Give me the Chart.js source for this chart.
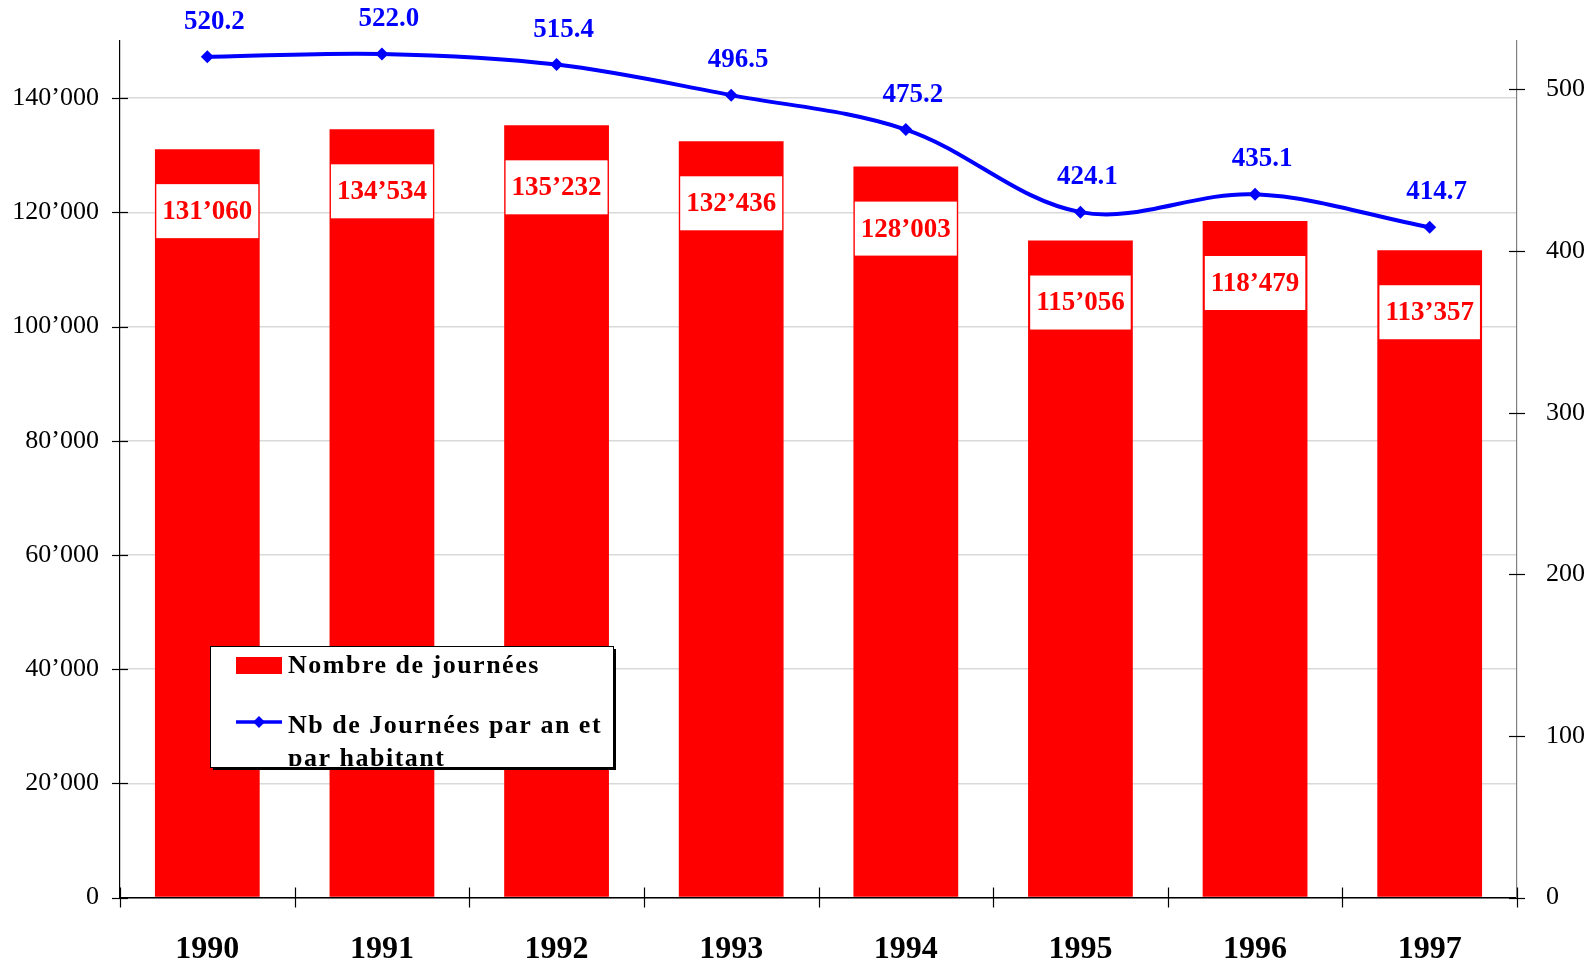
<!DOCTYPE html>
<html>
<head>
<meta charset="utf-8">
<script src="https://cdn.jsdelivr.net/npm/chart.js@4/dist/chart.umd.min.js"></script>
<style>
  html, body { margin: 0; padding: 0; background: #fff; }
  canvas { display: block; }
</style>
</head>
<body>
<canvas id="graphique" width="1585" height="960"></canvas>
<script>
const annees = ['1990', '1991', '1992', '1993', '1994', '1995', '1996', '1997']
const nb_journees = [131060, 134534, 135232, 132436, 128003, 115056, 118479, 113357]
const journees_par_habitant = [520.2, 522.0, 515.4, 496.5, 475.2, 424.1, 435.1, 414.7]
const ticks_gauche = [0, 20000, 40000, 60000, 80000, 100000, 120000, 140000]
const ticks_droite = [0, 100, 200, 300, 400, 500]

const police = '"Liberation Serif", "Times New Roman", serif'
const rouge = '#ff0000'
const bleu = '#0000ff'

const format_milliers = v => String(v).replace(/\B(?=(\d{3})+(?!\d))/g, '’')

// traits de graduation qui traversent les axes (comme dans Excel)
const traits_axes = {
  id: 'traits_axes',
  afterDatasetsDraw(chart) {
    const ctx = chart.ctx
    const { left, right, bottom } = chart.chartArea
    const y = chart.scales.y
    const y1 = chart.scales.y1
    const x = chart.scales.x
    ctx.save()
    ctx.lineWidth = 1.2
    ctx.strokeStyle = '#000'
    ticks_gauche.forEach(v => {
      const py = Math.round(y.getPixelForValue(v)) + 0.5
      ctx.beginPath(); ctx.moveTo(left - 8, py); ctx.lineTo(left + 8, py); ctx.stroke()
    })
    ticks_droite.forEach(v => {
      const py = Math.round(y1.getPixelForValue(v)) + 0.5
      ctx.beginPath(); ctx.moveTo(right - 8, py); ctx.lineTo(right + 8, py); ctx.stroke()
    })
    for (let i = 0; i <= annees.length; i++) {
      const px = Math.round(x.getPixelForValue(i - 0.5)) + 0.5
      ctx.beginPath(); ctx.moveTo(px, bottom - 10); ctx.lineTo(px, bottom + 10); ctx.stroke()
    }
    ctx.restore()
  }
}

const etiquettes = {
  id: 'etiquettes',
  afterDatasetsDraw(chart) {
    const ctx = chart.ctx
    ctx.save()
    ctx.font = 'bold 27px ' + police
    ctx.textAlign = 'center'
    ctx.textBaseline = 'middle'

    chart.getDatasetMeta(0).data.forEach((barre, i) => {
      const texte = format_milliers(nb_journees[i])
      const largeur = ctx.measureText(texte).width + 12
      const cy = barre.y + 62
      ctx.fillStyle = '#fff'
      ctx.fillRect(barre.x - largeur / 2, cy - 27, largeur, 54)
      ctx.fillStyle = rouge
      ctx.fillText(texte, barre.x, cy + 1)
    })

    chart.getDatasetMeta(1).data.forEach((point, i) => {
      ctx.fillStyle = bleu
      ctx.fillText(journees_par_habitant[i].toFixed(1), point.x + 7, point.y - 35)
    })
    ctx.restore()
  }
}

// légende dessinée à la main, dans une boîte avec ombre
const legende = {
  id: 'legende',
  afterDraw(chart) {
    const ctx = chart.ctx
    const bx = 210, by = 646, bw = 403, bh = 121
    const ds = chart.data.datasets
    ctx.save()
    ctx.fillStyle = '#000'
    ctx.fillRect(bx + 3, by + 3, bw, bh)
    ctx.fillStyle = '#fff'
    ctx.fillRect(bx, by, bw, bh)
    ctx.lineWidth = 1
    ctx.strokeStyle = '#000'
    ctx.strokeRect(bx + 0.5, by + 0.5, bw, bh)

    ctx.beginPath()
    ctx.rect(bx + 1, by + 1, bw - 2, bh - 2)
    ctx.clip()

    ctx.font = 'bold 26px ' + police
    ctx.letterSpacing = '1.5px'
    ctx.textAlign = 'left'
    ctx.textBaseline = 'middle'

    ctx.fillStyle = ds[0].backgroundColor
    ctx.fillRect(236, 657, 46, 17)
    ctx.fillStyle = '#000'
    ctx.fillText(ds[0].label, 288, 666)

    ctx.strokeStyle = ds[1].borderColor
    ctx.lineWidth = 3.5
    ctx.beginPath(); ctx.moveTo(236, 722); ctx.lineTo(282, 722); ctx.stroke()
    ctx.fillStyle = ds[1].borderColor
    ctx.beginPath()
    ctx.moveTo(253, 722); ctx.lineTo(259, 716); ctx.lineTo(265, 722); ctx.lineTo(259, 728)
    ctx.closePath(); ctx.fill()

    const mots = ds[1].label.split(' ')
    const lignes = []
    let ligne = ''
    mots.forEach(m => {
      const essai = ligne ? ligne + ' ' + m : m
      if (ctx.measureText(essai).width > 315 && ligne) {
        lignes.push(ligne)
        ligne = m
      } else {
        ligne = essai
      }
    })
    lignes.push(ligne)
    ctx.fillStyle = '#000'
    lignes.forEach((l, i) => ctx.fillText(l, 288, 726 + i * 33))
    ctx.restore()
  }
}

new Chart(document.getElementById('graphique'), {
  type: 'bar',
  data: {
    labels: annees,
    datasets: [
      {
        label: 'Nombre de journées',
        data: nb_journees,
        backgroundColor: rouge,
        borderWidth: 0,
        barPercentage: 0.6,
        categoryPercentage: 1,
        yAxisID: 'y',
        order: 1
      },
      {
        type: 'line',
        label: 'Nb de Journées par an et par habitant',
        data: journees_par_habitant,
        borderColor: bleu,
        backgroundColor: bleu,
        borderWidth: 4,
        tension: 0.35,
        pointStyle: 'rectRot',
        pointRadius: 6.5,
        pointBorderWidth: 0,
        pointBackgroundColor: bleu,
        yAxisID: 'y1',
        order: 0
      }
    ]
  },
  options: {
    responsive: false,
    animation: false,
    layout: { padding: { top: 41, left: 0, right: 0, bottom: 0 } },
    plugins: {
      legend: { display: false },
      tooltip: { enabled: false }
    },
    scales: {
      x: {
        z: 1,
        grid: { display: false },
        border: { color: '#000', width: 1.5 },
        ticks: {
          color: '#000',
          padding: 25,
          font: { family: police, size: 32, weight: 'bold' }
        },
        afterFit: scale => { scale.height = 62.5 }
      },
      y: {
        position: 'left',
        min: 0,
        max: 150000,
        afterBuildTicks: scale => { scale.ticks = ticks_gauche.map(v => ({ value: v })) },
        grid: { color: '#d9d9d9', lineWidth: 1.5, drawTicks: false },
        border: { color: '#000', width: 1.2 },
        ticks: {
          color: '#000',
          padding: 21,
          font: { family: police, size: 26 },
          callback: v => format_milliers(v)
        },
        afterFit: scale => { scale.width = 120 }
      },
      y1: {
        position: 'right',
        min: 0,
        max: 530,
        afterBuildTicks: scale => { scale.ticks = ticks_droite.map(v => ({ value: v })) },
        grid: { display: false },
        border: { color: '#808080', width: 1.2 },
        ticks: {
          color: '#000',
          padding: 21,
          font: { family: police, size: 26 }
        },
        afterFit: scale => { scale.width = 68 }
      }
    }
  },
  plugins: [traits_axes, etiquettes, legende]
})
</script>
</body>
</html>
